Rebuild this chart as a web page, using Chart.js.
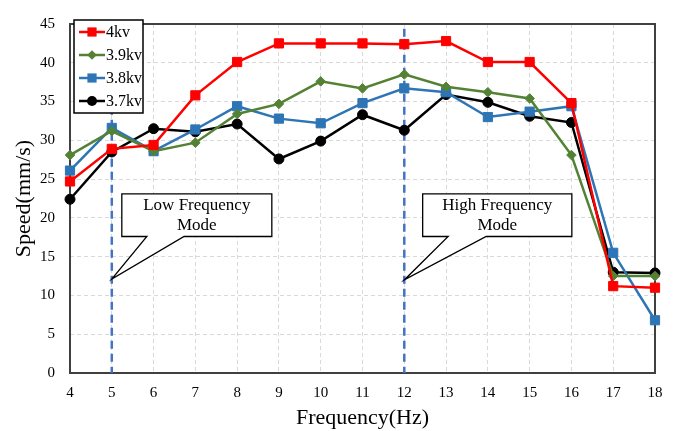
<!DOCTYPE html>
<html>
<head>
<meta charset="utf-8">
<script src="https://cdn.jsdelivr.net/npm/chart.js@4/dist/chart.umd.min.js"></script>
<style>
  html, body { margin: 0; padding: 0; background: #fff; }
  #wrap { width: 676px; height: 431px; }
</style>
</head>
<body>
<div id="wrap"><canvas id="speedChart" width="676" height="431"></canvas></div>
<script>
const freqs = [4, 5, 6, 7, 8, 9, 10, 11, 12, 13, 14, 15, 16, 17, 18];
const speed4kv  = [24.7, 28.9, 29.4, 35.8, 40.1, 42.5, 42.5, 42.5, 42.4, 42.8, 40.1, 40.1, 34.8, 11.2, 11.0];
const speed39kv = [28.1, 31.2, 28.6, 29.7, 33.4, 34.7, 37.6, 36.7, 38.5, 36.9, 36.2, 35.4, 28.1, 12.5, 12.5];
const speed38kv = [26.1, 31.6, 28.6, 31.4, 34.4, 32.8, 32.2, 34.8, 36.7, 36.2, 33.0, 33.7, 34.4, 15.5, 6.8];
const speed37kv = [22.4, 28.5, 31.5, 31.1, 32.1, 27.6, 29.9, 33.3, 31.3, 35.9, 34.9, 33.1, 32.3, 13.0, 12.9];
const seriesNames = ['4kv', '3.9kv', '3.8kv', '3.7kv'];
const modeLines = [5, 12];
const modeLabels = [['Low Frequency', 'Mode'], ['High Frequency', 'Mode']];

const serif = "'Liberation Serif', 'Times New Roman', serif";

const toPoints = (vals) => freqs.map((f, i) => ({ x: f, y: vals[i] }));

const makeSet = (label, vals, color, style, radius) => ({
    label: label,
    data: toPoints(vals),
    borderColor: color,
    backgroundColor: color,
    borderWidth: 2.5,
    pointStyle: style,
    pointRadius: radius,
    pointBorderWidth: 1,
    tension: 0,
    clip: false
});

// callouts: box corners, tip and the base of the pointer, in data units
const callouts = [
    { box: [5.24, 23.1, 8.83, 17.6], tip: [modeLines[0], 12.1], base: [5.84, 6.73], text: modeLabels[0] },
    { box: [12.44, 23.1, 16.01, 17.6], tip: [modeLines[1], 12.0], base: [13.05, 13.96], text: modeLabels[1] }
];

const decorPlugin = {
    id: 'decor',
    beforeDatasetsDraw(chart) {
        const { ctx, chartArea: a, scales: { x, y } } = chart;
        ctx.save();
        // plot frame
        ctx.strokeStyle = '#404040';
        ctx.lineWidth = 2;
        ctx.strokeRect(a.left, a.top, a.right - a.left, a.bottom - a.top);
        // mode lines
        ctx.strokeStyle = '#4472C4';
        ctx.lineWidth = 2.5;
        ctx.setLineDash([8, 5]);
        modeLines.forEach(f => {
            const px = x.getPixelForValue(f);
            ctx.beginPath();
            ctx.moveTo(px, y.getPixelForValue(44.4));
            ctx.lineTo(px, a.bottom);
            ctx.stroke();
        });
        ctx.restore();
    },
    afterDraw(chart) {
        const { ctx, scales: { x, y } } = chart;
        ctx.save();

        // callout boxes
        callouts.forEach(c => {
            const l = x.getPixelForValue(c.box[0]), t = y.getPixelForValue(c.box[1]);
            const r = x.getPixelForValue(c.box[2]), b = y.getPixelForValue(c.box[3]);
            ctx.beginPath();
            ctx.moveTo(l, t);
            ctx.lineTo(r, t);
            ctx.lineTo(r, b);
            ctx.lineTo(x.getPixelForValue(c.base[1]), b);
            ctx.lineTo(x.getPixelForValue(c.tip[0]), y.getPixelForValue(c.tip[1]));
            ctx.lineTo(x.getPixelForValue(c.base[0]), b);
            ctx.lineTo(l, b);
            ctx.closePath();
            ctx.fillStyle = '#fff';
            ctx.fill();
            ctx.strokeStyle = '#000';
            ctx.lineWidth = 1.3;
            ctx.stroke();
            ctx.fillStyle = '#000';
            ctx.font = '17px ' + serif;
            ctx.textAlign = 'center';
            ctx.textBaseline = 'middle';
            const cx = (l + r) / 2, cy = (t + b) / 2;
            ctx.fillText(c.text[0], cx, cy - 10);
            ctx.fillText(c.text[1], cx, cy + 10);
        });

        // legend box
        const lx = 74, ly = 20, lw = 69, lh = 93;
        ctx.fillStyle = '#fff';
        ctx.fillRect(lx, ly, lw, lh);
        ctx.strokeStyle = '#000';
        ctx.lineWidth = 1.5;
        ctx.strokeRect(lx, ly, lw, lh);
        const rows = [32, 55, 78, 101];
        chart.data.datasets.forEach((ds, i) => {
            const ry = rows[i];
            ctx.strokeStyle = ds.borderColor;
            ctx.lineWidth = 2.5;
            ctx.beginPath();
            ctx.moveTo(79, ry);
            ctx.lineTo(105, ry);
            ctx.stroke();
            ctx.fillStyle = ds.backgroundColor;
            const mx = 92, r = ds.pointRadius;
            ctx.beginPath();
            if (ds.pointStyle === 'rect') {
                const s = r * Math.SQRT1_2;
                ctx.rect(mx - s, ry - s, 2 * s, 2 * s);
            } else if (ds.pointStyle === 'rectRot') {
                ctx.moveTo(mx - r, ry);
                ctx.lineTo(mx, ry - r);
                ctx.lineTo(mx + r, ry);
                ctx.lineTo(mx, ry + r);
                ctx.closePath();
            } else {
                ctx.arc(mx, ry, r, 0, Math.PI * 2);
            }
            ctx.fill();
            ctx.fillStyle = '#000';
            ctx.font = '16px ' + serif;
            ctx.textAlign = 'left';
            ctx.textBaseline = 'middle';
            ctx.fillText(ds.label, 106, ry + 1);
        });
        ctx.restore();
    }
};

new Chart(document.getElementById('speedChart'), {
    type: 'line',
    data: {
        datasets: [
            makeSet(seriesNames[0], speed4kv, '#FF0000', 'rect', 6.5),
            makeSet(seriesNames[1], speed39kv, '#548235', 'rectRot', 4.8),
            makeSet(seriesNames[2], speed38kv, '#2E75B6', 'rect', 6.5),
            makeSet(seriesNames[3], speed37kv, '#000000', 'circle', 5)
        ]
    },
    options: {
        responsive: false,
        animation: false,
        layout: { padding: { top: 15, right: 21, left: 0, bottom: 0 } },
        scales: {
            x: {
                type: 'linear',
                min: 4,
                max: 18,
                afterFit: (s) => { s.height = 58; },
                grid: { color: '#d9d9d9', lineWidth: 1, drawTicks: false },
                border: { display: false, dash: [4, 3] },
                ticks: {
                    stepSize: 1,
                    padding: 11,
                    color: '#000',
                    font: { family: serif, size: 15 }
                },
                title: {
                    display: true,
                    text: 'Frequency(Hz)',
                    color: '#000',
                    font: { family: serif, size: 22 },
                    padding: { top: 0, bottom: 0 }
                }
            },
            y: {
                min: 0,
                max: 45,
                afterFit: (s) => { s.width = 70; },
                grid: { color: '#d9d9d9', lineWidth: 1, drawTicks: false },
                border: { display: false, dash: [4, 3] },
                ticks: {
                    stepSize: 5,
                    padding: 15,
                    color: '#000',
                    font: { family: serif, size: 15 }
                },
                title: {
                    display: true,
                    text: 'Speed(mm/s)',
                    color: '#000',
                    font: { family: serif, size: 22 },
                    padding: { top: 11, bottom: 0 }
                }
            }
        },
        plugins: {
            legend: { display: false },
            tooltip: { enabled: false }
        }
    },
    plugins: [decorPlugin]
});
</script>
</body>
</html>
